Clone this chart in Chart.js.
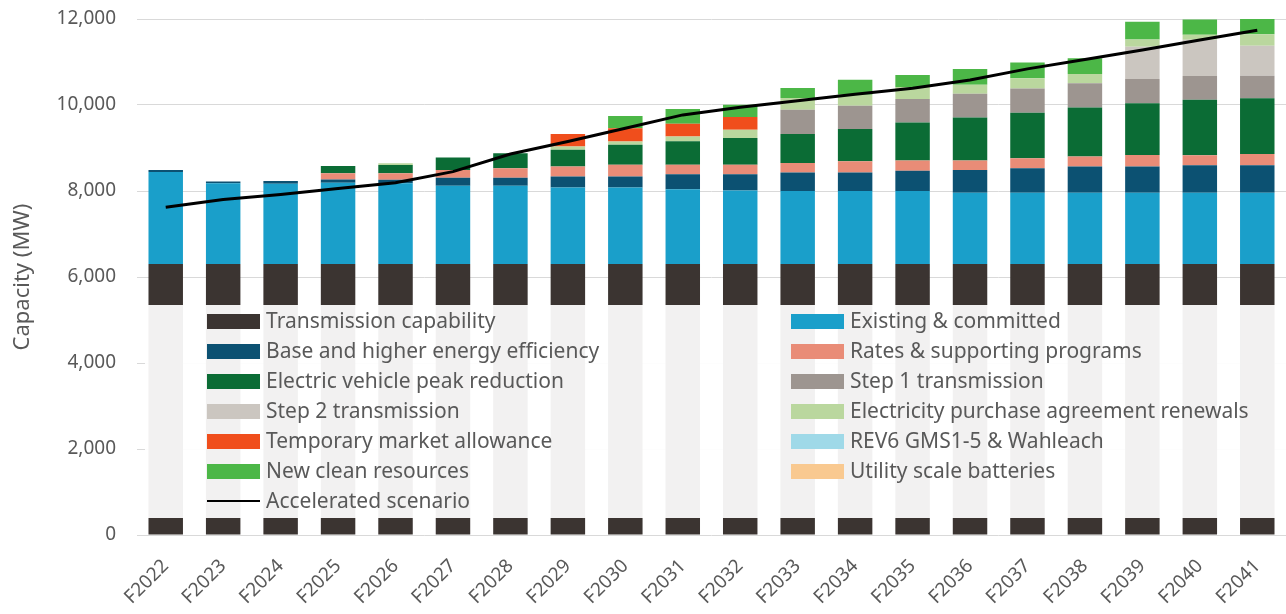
<!DOCTYPE html>
<html>
<head>
<meta charset="utf-8">
<script src="https://cdn.jsdelivr.net/npm/chart.js@4.4.1/dist/chart.umd.min.js"></script>
<style>
  html, body { margin: 0; padding: 0; background: #fff; overflow: hidden; }
  #wrap { width: 1286px; height: 614px; }
</style>
</head>
<body>
<div id="wrap"><canvas id="capacity-chart"></canvas></div>
<script>
// ---- CATEGORIES ----
const YEARS = ['F2022', 'F2023', 'F2024', 'F2025', 'F2026', 'F2027', 'F2028', 'F2029', 'F2030', 'F2031',
  'F2032', 'F2033', 'F2034', 'F2035', 'F2036', 'F2037', 'F2038', 'F2039', 'F2040', 'F2041'];

// ---- SUPPLY STACK (MW), bottom to top ----
const TRANSMISSION = [6300, 6300, 6300, 6300, 6300, 6300, 6300, 6300, 6300, 6300, 6300, 6300, 6300, 6300, 6300, 6300, 6300, 6300, 6300, 6300];
const EXISTING     = [2140, 1880, 1870, 1890, 1880, 1820, 1820, 1780, 1780, 1740, 1710, 1700, 1700, 1700, 1660, 1660, 1660, 1660, 1660, 1660];
const EFFICIENCY   = [50, 40, 60, 80, 80, 190, 190, 260, 260, 350, 380, 430, 430, 470, 530, 570, 610, 610, 640, 640];
const RATES        = [0, 0, 0, 140, 155, 180, 220, 230, 270, 220, 220, 220, 260, 240, 220, 230, 230, 270, 230, 260];
const EV_PEAK      = [0, 0, 0, 170, 190, 290, 350, 390, 465, 545, 620, 675, 750, 885, 1000, 1060, 1140, 1200, 1295, 1295];
const STEP1        = [0, 0, 0, 0, 0, 0, 0, 0, 0, 0, 0, 565, 545, 545, 550, 565, 565, 565, 550, 525];
const STEP2        = [0, 0, 0, 0, 0, 0, 0, 0, 0, 0, 0, 0, 0, 0, 0, 0, 0, 750, 845, 700];
const EPA_RENEWALS = [0, 0, 0, 0, 40, 0, 0, 75, 75, 115, 195, 270, 255, 280, 210, 235, 215, 170, 115, 265];
const TEMP_MARKET  = [0, 0, 0, 0, 0, 0, 0, 290, 310, 295, 295, 0, 0, 0, 0, 0, 0, 0, 0, 0];
const REV6         = [0, 0, 0, 0, 0, 0, 0, 0, 0, 0, 0, 0, 0, 0, 0, 0, 0, 0, 0, 0];
const NEW_CLEAN    = [0, 0, 0, 0, 0, 0, 0, 0, 285, 340, 285, 235, 350, 280, 370, 370, 365, 410, 355, 355];
const BATTERIES    = [0, 0, 0, 0, 0, 0, 0, 0, 0, 0, 0, 0, 0, 0, 0, 0, 0, 0, 0, 0];

// ---- LOAD LINE (MW) ----
const ACCELERATED  = [7620, 7800, 7920, 8060, 8190, 8450, 8860, 9150, 9460, 9770, 9950, 10100, 10250, 10390, 10580, 10840, 11060, 11280, 11510, 11740];

// ---- AXIS ----
const Y_MIN = 0;
const Y_MAX = 12000;
const Y_STEP = 2000;

const FONT = '"Noto Sans", "Open Sans", sans-serif';
const TEXT = '#595959';

const SERIES = [
  ['Transmission capability', TRANSMISSION, '#3b3431'],
  ['Existing & committed', EXISTING, '#1a9fca'],
  ['Base and higher energy efficiency', EFFICIENCY, '#0c5172'],
  ['Rates & supporting programs', RATES, '#e98c77'],
  ['Electric vehicle peak reduction', EV_PEAK, '#0b6c35'],
  ['Step 1 transmission', STEP1, '#9d9590'],
  ['Step 2 transmission', STEP2, '#cbc6c0'],
  ['Electricity purchase agreement renewals', EPA_RENEWALS, '#bad79e'],
  ['Temporary market allowance', TEMP_MARKET, '#f04e1c'],
  ['REV6 GMS1-5 & Wahleach', REV6, '#9fd9e8'],
  ['New clean resources', NEW_CLEAN, '#4cb747'],
  ['Utility scale batteries', BATTERIES, '#f9c990'],
];

const datasets = SERIES.map(([label, data, color]) => ({
  type: 'bar',
  label,
  data,
  backgroundColor: color,
  borderWidth: 0,
  stack: 'supply',
  order: 1,
  categoryPercentage: 1,
  barPercentage: 0.6,
}));

datasets.push({
  type: 'line',
  label: 'Accelerated scenario',
  data: ACCELERATED,
  borderColor: '#000',
  backgroundColor: '#000',
  borderWidth: 3,
  pointRadius: 0,
  tension: 0,
  stack: 'load',
  order: 0,
});

// Legend drawn inside the plot, over the lower part of the bars,
// on a mostly opaque white panel.
const overlayLegend = {
  id: 'overlayLegend',
  afterDraw(chart) {
    const { ctx, chartArea } = chart;
    const box = { left: 145, top: 305, right: chartArea.right, bottom: 518 };
    ctx.save();
    ctx.fillStyle = 'rgba(255,255,255,0.935)';
    ctx.fillRect(box.left, box.top, box.right - box.left, box.bottom - box.top);

    ctx.font = '21px ' + FONT;
    ctx.textBaseline = 'middle';
    ctx.textAlign = 'left';
    chart.data.datasets.forEach((ds, i) => {
      const col = i % 2;
      const row = Math.floor(i / 2);
      const sx = col ? 791 : 207;
      const cy = 321 + row * 30;
      if (ds.type === 'line') {
        ctx.strokeStyle = ds.borderColor;
        ctx.lineWidth = 2;
        ctx.beginPath();
        ctx.moveTo(sx, cy);
        ctx.lineTo(sx + 53, cy);
        ctx.stroke();
      } else {
        ctx.fillStyle = ds.backgroundColor;
        ctx.fillRect(sx, cy - 7, 53, 15);
      }
      ctx.fillStyle = TEXT;
      ctx.fillText(ds.label, sx + 59, cy + 1);
    });
    ctx.restore();
  },
};

new Chart(document.getElementById('capacity-chart'), {
  data: { labels: YEARS, datasets },
  options: {
    responsive: true,
    maintainAspectRatio: false,
    animation: false,
    layout: { padding: { top: 19, right: 0, left: 0, bottom: 0 } },
    plugins: {
      legend: { display: false },
      tooltip: { enabled: false },
    },
    scales: {
      x: {
        stacked: true,
        grid: { display: false },
        border: { display: false },
        ticks: {
          color: TEXT,
          font: { family: FONT, size: 19 },
          minRotation: 45,
          maxRotation: 45,
          padding: 12,
        },
        afterFit(scale) { scale.height = 79; },
      },
      y: {
        stacked: true,
        min: Y_MIN,
        max: Y_MAX,
        grid: { color: '#d9d9d9', lineWidth: 1, drawTicks: false },
        border: { display: false },
        ticks: {
          stepSize: Y_STEP,
          color: TEXT,
          padding: 21,
          font: { family: FONT, size: 19 },
          callback: v => v.toLocaleString('en-US'),
        },
        title: {
          display: true,
          text: 'Capacity (MW)',
          color: TEXT,
          font: { family: FONT, size: 22 },
          padding: { top: 10, bottom: 8 },
        },
        afterFit(scale) {
          scale.width = 137;
          scale.paddingTop = 0;
          scale.paddingBottom = 0;
        },
      },
    },
  },
  plugins: [overlayLegend],
});
</script>
</body>
</html>
